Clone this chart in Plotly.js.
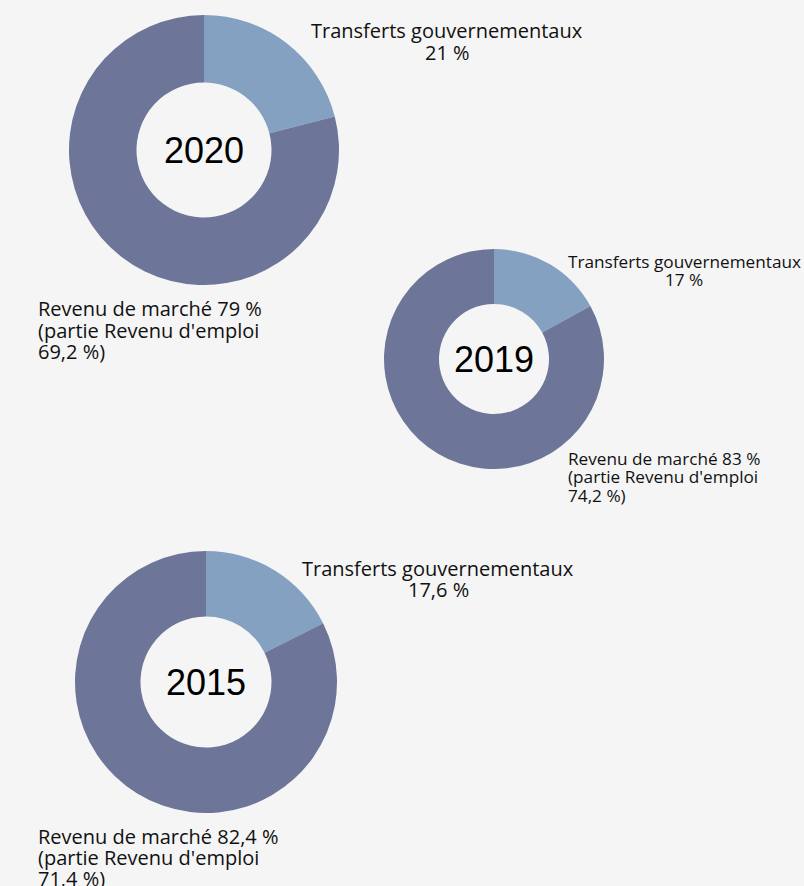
<!DOCTYPE html>
<html>
<head>
<meta charset="utf-8">
<script src="https://cdn.plot.ly/plotly-3.0.1.min.js"></script>
<style>
  html, body { margin: 0; padding: 0; background: #f5f5f5; }
  #chart { width: 804px; height: 886px; }
</style>
</head>
<body>
<div id="chart"></div>
<script>
// Share of income by source, per year
var years = ["2020", "2019", "2015"];
var sliceNames = ["Transferts gouvernementaux", "Revenu de marché"];
var transferts = [21, 17, 17.6];
var marche = [79, 83, 82.4];
var emploi = [69.2, 74.2, 71.4];

var colors = ["#84a1c2", "#6d7599"];
var W = 804, H = 886;

// pixel boxes of each donut (left, top, size), label anchors (first baseline) and line gap
var boxes = [
  {x: 69, y: 15, s: 270, font: 20, gap: 21.5, tx: 447, ty: 37, rx: 36, ry: 315},
  {x: 384, y: 249, s: 220, font: 17.2, gap: 18.5, tx: 684, ty: 267, rx: 566, ry: 464},
  {x: 75, y: 551, s: 262, font: 20, gap: 21, tx: 438, ty: 575, rx: 36, ry: 843}
];

function fr(v) { return String(v).replace(".", ","); }
function px(x) { return x / W; }
function py(y) { return 1 - y / H; }

var data = [];
var annotations = [];
var labelFont = "'Open Sans', sans-serif";

// one annotation per line so the line gap can stay tight
function addLines(lines, x, baseline, anchor, b) {
  lines.forEach(function(t, k) {
    annotations.push({
      x: px(x), y: py(baseline + k * b.gap - 0.32 * b.font),
      xref: "paper", yref: "paper", text: t, showarrow: false,
      xanchor: anchor, yanchor: "middle",
      font: {family: labelFont, size: b.font, color: "#111"}
    });
  });
}

years.forEach(function(yr, i) {
  var b = boxes[i];
  data.push({
    type: "pie",
    labels: sliceNames,
    values: [transferts[i], marche[i]],
    hole: 0.5,
    sort: false,
    direction: "clockwise",
    rotation: 0,
    textinfo: "none",
    hoverinfo: "label+percent",
    marker: {colors: colors, line: {width: 0}},
    domain: {x: [px(b.x), px(b.x + b.s)], y: [py(b.y + b.s), py(b.y)]},
    showlegend: false
  });

  // year in the middle
  annotations.push({
    x: px(b.x + b.s / 2), y: py(b.y + b.s / 2), xref: "paper", yref: "paper",
    text: yr, showarrow: false, xanchor: "center", yanchor: "middle",
    font: {family: "'Liberation Sans', Arial, sans-serif", size: 36, color: "#000"}
  });

  addLines([sliceNames[0], fr(transferts[i]) + " %"], b.tx, b.ty, "center", b);
  addLines([sliceNames[1] + " " + fr(marche[i]) + " %", "(partie Revenu d'emploi", fr(emploi[i]) + " %)"],
    b.rx, b.ry, "left", b);
});

var layout = {
  width: W, height: H,
  margin: {l: 0, r: 0, t: 0, b: 0},
  paper_bgcolor: "#f5f5f5",
  plot_bgcolor: "#f5f5f5",
  annotations: annotations
};

Plotly.newPlot("chart", data, layout, {displayModeBar: false});
</script>
</body>
</html>
